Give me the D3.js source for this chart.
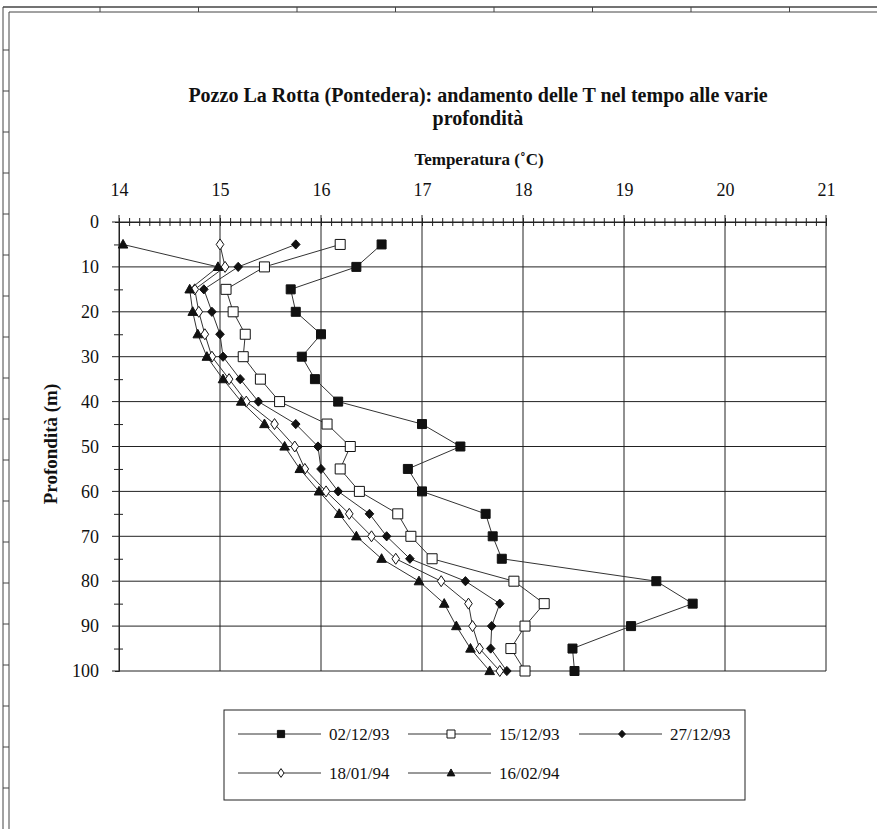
<!DOCTYPE html>
<html>
<head>
<meta charset="utf-8">
<script src="https://cdn.jsdelivr.net/npm/d3@7"></script>
<style>
  body { margin: 0; background: #fff; }
  svg { display: block; }
  text { font-family: "Liberation Serif", "Times New Roman", serif; fill: #111; }
</style>
</head>
<body>
<svg></svg>
<script>
// depths (m)
var depths = [5, 10, 15, 20, 25, 30, 35, 40, 45, 50, 55, 60, 65, 70, 75, 80, 85, 90, 95, 100];

// temperature (°C) per survey date
var t021293 = [16.6, 16.35, 15.7, 15.75, 16.0, 15.81, 15.94, 16.17, 17.0, 17.38, 16.86, 17.0, 17.63, 17.7, 17.79, 19.32, 19.68, 19.07, 18.49, 18.51];
var t151293 = [16.19, 15.44, 15.06, 15.13, 15.25, 15.23, 15.4, 15.59, 16.06, 16.29, 16.19, 16.38, 16.76, 16.89, 17.1, 17.91, 18.21, 18.02, 17.88, 18.02];
var t271293 = [15.75, 15.18, 14.84, 14.92, 15.0, 15.03, 15.2, 15.38, 15.75, 15.97, 16.0, 16.17, 16.48, 16.65, 16.88, 17.43, 17.77, 17.69, 17.68, 17.84];
var t180194 = [15.0, 15.05, 14.75, 14.79, 14.85, 14.92, 15.09, 15.26, 15.54, 15.74, 15.84, 16.05, 16.28, 16.5, 16.74, 17.19, 17.46, 17.5, 17.57, 17.77];
var t160294 = [14.04, 14.98, 14.7, 14.73, 14.78, 14.87, 15.03, 15.21, 15.44, 15.64, 15.79, 15.98, 16.18, 16.35, 16.6, 16.97, 17.22, 17.34, 17.48, 17.67];

var seriesNames = ["02/12/93", "15/12/93", "27/12/93", "18/01/94", "16/02/94"];
var seriesValues = [t021293, t151293, t271293, t180194, t160294];
var seriesShapes = ["square", "openSquare", "diamond", "openDiamond", "triangle"];

var xTicks = [14, 15, 16, 17, 18, 19, 20, 21];
var yTicks = [0, 10, 20, 30, 40, 50, 60, 70, 80, 90, 100];

var title1 = "Pozzo La Rotta (Pontedera): andamento delle T nel tempo alle varie";
var title2 = "profondità";
var xTitle = "Temperatura (˚C)";
var yTitle = "Profondità (m)";

var width = 877, height = 829;
var svg = d3.select("svg").attr("width", width).attr("height", height);

var plot = { left: 119, right: 826, top: 222, bottom: 671 };

var x = d3.scaleLinear().domain([14, 21]).range([plot.left, plot.right]);
var y = d3.scaleLinear().domain([0, 100]).range([plot.top, plot.bottom]);

var ink = "#222";

// page frame (scan border)
var frame = svg.append("g").attr("stroke", "#444").attr("fill", "none");
frame.append("line").attr("x1", 3).attr("x2", width).attr("y1", 7).attr("y2", 7).attr("stroke-width", 1.5);
frame.append("line").attr("x1", 9).attr("x2", width).attr("y1", 12).attr("y2", 12);
frame.append("line").attr("x1", 3).attr("x2", 3).attr("y1", 7).attr("y2", height);
frame.append("line").attr("x1", 9).attr("x2", 9).attr("y1", 12).attr("y2", height);
frame.selectAll(".lt").data(d3.range(50, height, 41)).enter().append("line")
  .attr("x1", 3).attr("x2", 9).attr("y1", function(d){ return d; }).attr("y2", function(d){ return d; });
frame.selectAll(".tt").data(d3.range(100, width, 98.5)).enter().append("line")
  .attr("x1", function(d){ return d; }).attr("x2", function(d){ return d; }).attr("y1", 7).attr("y2", 12);

// grid
svg.append("g").selectAll("line").data(yTicks).enter().append("line")
  .attr("x1", plot.left - 7).attr("x2", plot.right)
  .attr("y1", function(d){ return y(d); }).attr("y2", function(d){ return y(d); })
  .attr("stroke", ink).attr("stroke-width", 1);

svg.append("g").selectAll("line").data(xTicks).enter().append("line")
  .attr("x1", function(d){ return x(d); }).attr("x2", function(d){ return x(d); })
  .attr("y1", plot.top - 7).attr("y2", plot.bottom)
  .attr("stroke", ink).attr("stroke-width", 1);

// top axis: minor ticks every 0.1
var xMinor = svg.append("g")
  .attr("transform", "translate(0," + plot.top + ")")
  .call(d3.axisTop(x).tickValues(d3.range(140, 211).map(function(d){ return d / 10; })).tickSize(4).tickFormat(""));
xMinor.select(".domain").attr("stroke", ink);
xMinor.selectAll(".tick line").attr("y1", 4).attr("y2", -4).attr("stroke", ink);

var xAxis = svg.append("g")
  .attr("transform", "translate(0," + plot.top + ")")
  .call(d3.axisTop(x).tickValues(xTicks).tickSize(0).tickPadding(26).tickFormat(d3.format("d")));
xAxis.select(".domain").remove();
xAxis.selectAll("text").style("font-size", "18px").style("font-family", "Liberation Serif").attr("fill", "#111");

// left axis: minor ticks every 5
var yMinor = svg.append("g")
  .attr("transform", "translate(" + plot.left + ",0)")
  .call(d3.axisLeft(y).tickValues(d3.range(5, 100, 10)).tickSize(4).tickFormat(""));
yMinor.select(".domain").attr("stroke", ink);
yMinor.selectAll(".tick line").attr("x1", 4).attr("x2", -5).attr("stroke", ink);

var yAxis = svg.append("g")
  .attr("transform", "translate(" + plot.left + ",0)")
  .call(d3.axisLeft(y).tickValues(yTicks).tickSize(0).tickPadding(20));
yAxis.select(".domain").remove();
yAxis.selectAll("text").style("font-size", "18px").style("font-family", "Liberation Serif").attr("fill", "#111");

// titles
svg.append("text").attr("x", 478).attr("y", 102).attr("text-anchor", "middle")
  .style("font-size", "20px").style("font-weight", "bold").text(title1);
svg.append("text").attr("x", 478).attr("y", 125).attr("text-anchor", "middle")
  .style("font-size", "20px").style("font-weight", "bold").text(title2);
svg.append("text").attr("x", 479).attr("y", 165).attr("text-anchor", "middle")
  .style("font-size", "17px").style("font-weight", "bold").text(xTitle);
svg.append("text").attr("transform", "translate(57,444) rotate(-90)")
  .attr("text-anchor", "middle")
  .style("font-size", "19px").style("font-weight", "bold").text(yTitle);

// marker shapes
function shapePath(shape, s) {
  s = s || 1;
  if (shape === "square" ) { var a = 4.5 * s; return "M" + (-a) + "," + (-a) + "H" + a + "V" + a + "H" + (-a) + "Z"; }
  if (shape === "openSquare") { var b = 5 * s; return "M" + (-b) + "," + (-b) + "H" + b + "V" + b + "H" + (-b) + "Z"; }
  if (shape === "diamond") { var w = 4.3 * s, h = 4.6 * s; return "M0," + (-h) + "L" + w + ",0L0," + h + "L" + (-w) + ",0Z"; }
  if (shape === "openDiamond") { var w2 = 3.8 * s, h2 = 5.5 * s; return "M0," + (-h2) + "L" + w2 + ",0L0," + h2 + "L" + (-w2) + ",0Z"; }
  var t = 4.8 * s; return "M0," + (-t * 1.05) + "L" + t + "," + (t * 0.75) + "L" + (-t) + "," + (t * 0.75) + "Z";
}
function isOpen(shape) { return shape === "openSquare" || shape === "openDiamond"; }

var line = d3.line()
  .x(function(d){ return x(d.t); })
  .y(function(d){ return y(d.d); });

seriesValues.forEach(function(vals, i){
  var pts = vals.map(function(v, j){ return { t: v, d: depths[j] }; });
  var g = svg.append("g");
  g.append("path").datum(pts).attr("d", line)
    .attr("fill", "none").attr("stroke", "#333").attr("stroke-width", 1);
  g.selectAll("path.m").data(pts).enter().append("path").attr("class", "m")
    .attr("transform", function(d){ return "translate(" + x(d.t) + "," + y(d.d) + ")"; })
    .attr("d", shapePath(seriesShapes[i]))
    .attr("fill", isOpen(seriesShapes[i]) ? "#fff" : "#111")
    .attr("stroke", "#111").attr("stroke-width", 1);
});

// legend
var legend = svg.append("g");
legend.append("rect").attr("x", 224).attr("y", 710).attr("width", 521).attr("height", 90)
  .attr("fill", "none").attr("stroke", ink).attr("stroke-width", 1);

var legendCols = [238, 408, 579];
var legendRows = [734, 773];
seriesNames.forEach(function(name, i){
  var cx = legendCols[i % 3], cy = legendRows[Math.floor(i / 3)];
  var lg = legend.append("g").attr("transform", "translate(" + cx + "," + cy + ")");
  lg.append("line").attr("x1", 0).attr("x2", 83).attr("y1", 0).attr("y2", 0)
    .attr("stroke", "#333").attr("stroke-width", 1);
  lg.append("path").attr("transform", "translate(43,0)")
    .attr("d", shapePath(seriesShapes[i], 0.8))
    .attr("fill", isOpen(seriesShapes[i]) ? "#fff" : "#111")
    .attr("stroke", "#111").attr("stroke-width", 1);
  lg.append("text").attr("x", 91).attr("y", 6).style("font-size", "17px").text(name);
});
</script>
</body>
</html>
